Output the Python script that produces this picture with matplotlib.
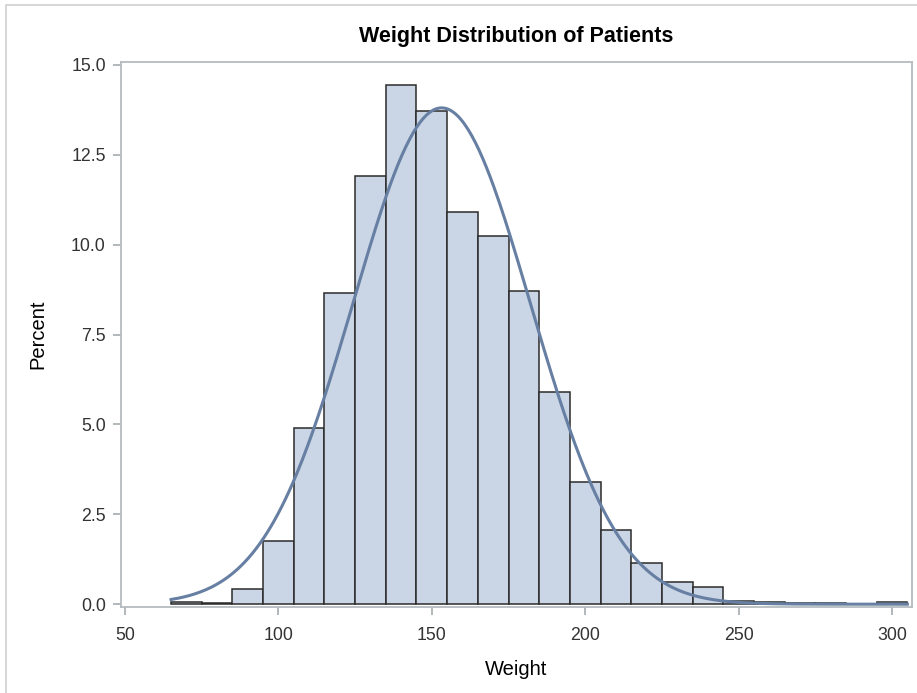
import numpy as np
import matplotlib
matplotlib.use('Agg')
import matplotlib.pyplot as plt
from matplotlib.patches import Rectangle

plt.rcParams['font.family'] = ['Liberation Sans', 'DejaVu Sans']

# histogram bins (midpoints, width 10) and percent per bin
bin_mids = [70, 80, 90, 100, 110, 120, 130, 140, 150, 160, 170, 180,
            190, 200, 210, 220, 230, 240, 250, 260, 270, 280, 290, 300]
percent = [0.06, 0.03, 0.42, 1.75, 4.9, 8.66, 11.92, 14.43, 13.72, 10.9, 10.25, 8.72,
           5.9, 3.4, 2.06, 1.14, 0.61, 0.47, 0.1, 0.06, 0.04, 0.04, 0.0, 0.05]
bin_width = 10

# fitted normal curve parameters
mu = 153.2
sigma = 28.9

xticks = [50, 100, 150, 200, 250, 300]
yticks = [0.0, 2.5, 5.0, 7.5, 10.0, 12.5, 15.0]

fig = plt.figure(figsize=(9.17, 6.93), dpi=100)
ax = fig.add_axes([0.132, 0.124, 0.8625, 0.786])

ax.bar(bin_mids, percent, width=bin_width, color='#CAD5E5',
       edgecolor='#2b2b2b', linewidth=1.1, zorder=2)

xs = np.linspace(65, 305, 400)
pdf = np.exp(-0.5 * ((xs - mu) / sigma) ** 2) / (sigma * np.sqrt(2 * np.pi))
ax.plot(xs, pdf * bin_width * 100, color='#667FA2', linewidth=2.2, zorder=3)

ax.set_xlim(48.7, 306.5)
ax.set_ylim(-0.08, 15.07)
ax.set_xticks(xticks)
ax.set_yticks(yticks)
ax.set_yticklabels([f'{v:.1f}' for v in yticks])

for s in ax.spines.values():
    s.set_color('#B5BBBF')
    s.set_linewidth(1.3)
ax.tick_params(direction='out', length=6, width=1.1, color='#9EA4A8',
               labelsize=12.8, labelcolor='#333333')
ax.tick_params(axis='x', pad=8)
ax.tick_params(axis='y', pad=5)

ax.set_xlabel('Weight', fontsize=14.5, labelpad=12)
ax.set_ylabel('Percent', fontsize=14.5, labelpad=17)
ax.set_title('Weight Distribution of Patients', fontsize=15.5,
             fontweight='bold', pad=15)

# outer frame of the graph area
fig.patches.append(Rectangle((6 / 917, -0.1), 1.2, (693 - 5) / 693 + 0.1,
                             transform=fig.transFigure, fill=False,
                             edgecolor='#D0D0D0', linewidth=1.2))

fig.savefig('out.png', dpi=100)
